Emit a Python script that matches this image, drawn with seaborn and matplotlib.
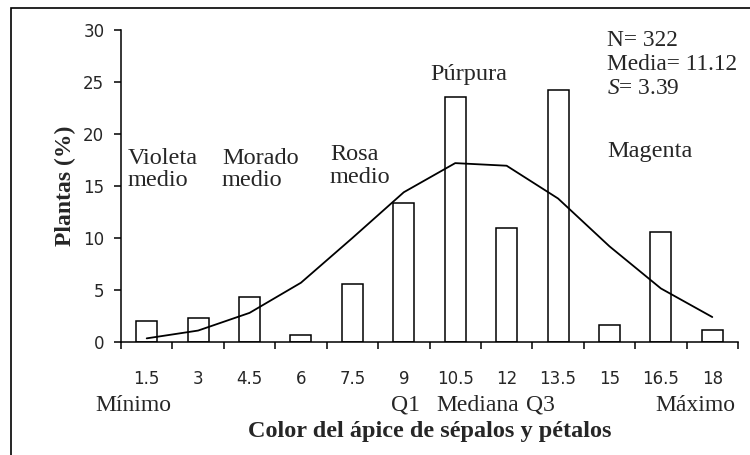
import numpy as np
import pandas as pd
import matplotlib
matplotlib.use("Agg")
import matplotlib.pyplot as plt
import matplotlib.patches as mpatches
import seaborn as sns

# ---- data ----
categories = ["1.5", "3", "4.5", "6", "7.5", "9", "10.5", "12", "13.5", "15", "16.5", "18"]
plants_pct = [2.0, 2.3, 4.35, 0.65, 5.55, 13.4, 23.6, 10.95, 24.2, 1.65, 10.6, 1.2]
normal_curve = [0.35, 1.1, 2.8, 5.7, 10.0, 14.4, 17.2, 16.95, 13.8, 9.2, 5.15, 2.4]
yticks = [0, 5, 10, 15, 20, 25, 30]
stats_lines = ["N= 322", "Media= 11.12", "$\\mathit{S}$= 3.39"]
group_labels = ["Violeta\nmedio", "Morado\nmedio", "Rosa\nmedio", "Púrpura", "Magenta"]
quantile_labels = ["Mínimo", "Q1", "Mediana", "Q3", "Máximo"]

df = pd.DataFrame({"color": categories, "pct": plants_pct, "curve": normal_curve})

sns.set_style("white")
plt.rcParams["font.family"] = ["DejaVu Sans"]
plt.rcParams["mathtext.fontset"] = "custom"
plt.rcParams["mathtext.rm"] = "Liberation Serif"
plt.rcParams["mathtext.it"] = "Liberation Serif:italic"
serif = ["Liberation Serif", "DejaVu Serif"]

fig = plt.figure(figsize=(7.5, 4.55), dpi=100)
ax = fig.add_axes([121 / 750, 1 - 342 / 455, (738 - 121) / 750, (342 - 30) / 455])

sns.barplot(data=df, x="color", y="pct", order=categories, color="white",
            edgecolor="black", linewidth=1.1, width=0.41, ax=ax, saturation=1)
sns.pointplot(data=df, x="color", y="curve", order=categories, color="black",
              markers="", linewidth=1.3, errorbar=None, ax=ax)

ax.set_xlim(-0.5, len(categories) - 0.5)
ax.set_ylim(0, 30)
ax.set_yticks(yticks)
ax.set_yticklabels([str(v) for v in yticks], fontsize=12)
ax.set_xticks(np.arange(-0.5, len(categories)), labels=[""] * (len(categories) + 1))
ax.set_xticks(np.arange(len(categories)), labels=categories, minor=True)
ax.tick_params(axis="x", which="major", direction="out", length=5, width=1.1,
               bottom=True, color="black")
ax.tick_params(axis="x", which="minor", length=0, pad=20, labelsize=12)
ax.tick_params(axis="y", direction="out", length=5, width=1.1, left=True, pad=7,
               color="black")

for s in ["top", "right"]:
    ax.spines[s].set_visible(False)
for s in ["left", "bottom"]:
    ax.spines[s].set_color("black")
    ax.spines[s].set_linewidth(1.1)

ax.set_xlabel("Color del ápice de sépalos y pétalos", fontsize=17.5, fontweight="bold",
              family=serif, labelpad=24)
ax.set_ylabel("Plantas (%)", fontsize=17, fontweight="bold", family=serif, labelpad=5)

# category annotations
fs = 17.5
ax.text(-0.364, 16.6, group_labels[0], ha="left", va="center", fontsize=fs, family=serif,
        linespacing=1.1)
ax.text(1.464, 16.6, group_labels[1], ha="left", va="center", fontsize=fs, family=serif,
        linespacing=1.1)
ax.text(3.564, 16.9, group_labels[2], ha="left", va="center", fontsize=fs, family=serif,
        linespacing=1.1)
ax.text(6.268, 25.7, group_labels[3], ha="center", va="center", fontsize=fs, family=serif)
ax.text(8.952, 18.3, group_labels[4], ha="left", va="center", fontsize=fs, family=serif)
ax.text(8.952, 26.7, "\n".join(stats_lines), ha="left", va="center", fontsize=16.8,
        family=serif, linespacing=1.2)

# quantile labels below the tick labels
qx = [-0.267, 5.04, 6.44, 7.65, 10.68]
for lab, xq in zip(quantile_labels, qx):
    ax.text(xq, -6.1, lab, ha="center", va="center", fontsize=17, family=serif,
            clip_on=False)

# outer frame
fig.patches.append(mpatches.Rectangle((11 / 750, -0.2), 1.2, 0.2 + (1 - 8 / 455),
                                      transform=fig.transFigure, fill=False,
                                      edgecolor="black", linewidth=1.2))

fig.savefig("out.png", dpi=100)
